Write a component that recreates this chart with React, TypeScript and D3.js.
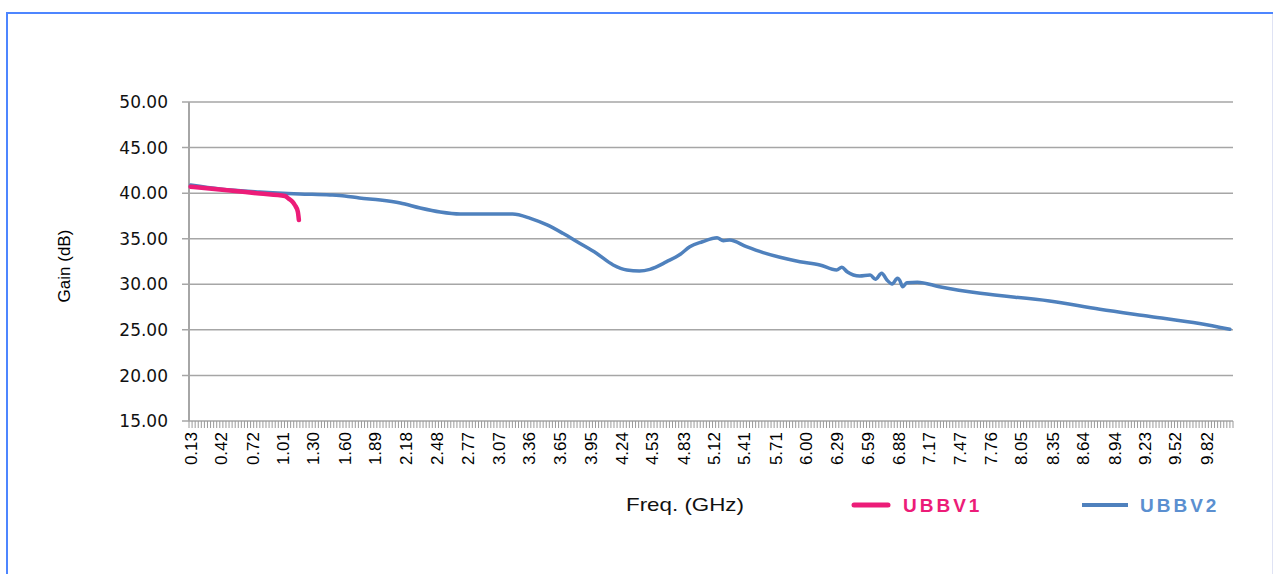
import React from "react";
import * as d3 from "d3";

// sweep: 339 points starting at 0.13 GHz
const sweepStart = 0.13;
const sweepStep = 0.029364;
const sweepPoints = 339;

const tickLabels = [
  "0.13", "0.42", "0.72", "1.01", "1.30", "1.60", "1.89", "2.18", "2.48",
  "2.77", "3.07", "3.36", "3.65", "3.95", "4.24", "4.53", "4.83", "5.12",
  "5.41", "5.71", "6.00", "6.29", "6.59", "6.88", "7.17", "7.47", "7.76",
  "8.05", "8.35", "8.64", "8.94", "9.23", "9.52", "9.82",
];

const yTicks = [15, 20, 25, 30, 35, 40, 45, 50];

const ubbv1Freq = [0.13, 0.53, 0.79, 1.03, 1.06, 1.1, 1.124, 1.153, 1.163];
const ubbv1Gain = [40.71, 40.27, 39.96, 39.69, 39.44, 39.08, 38.7, 37.96, 37.05];

const ubbv2Freq = [
  0.13, 0.41, 0.79, 1.17, 1.46, 1.6, 1.74, 1.94, 2.13, 2.32, 2.51, 2.7,
  3.2, 3.37, 3.53, 3.68, 3.84, 4.0, 4.16, 4.29, 4.41, 4.51, 4.67, 4.8,
  4.89, 5.01, 5.15, 5.21, 5.27, 5.43, 5.59, 5.75, 5.94, 6.13, 6.29, 6.34,
  6.39, 6.51, 6.61, 6.66, 6.72, 6.77, 6.82, 6.87, 6.89, 6.92, 6.96, 7.06,
  7.27, 7.66, 8.32, 8.8, 9.28, 9.75, 10.04,
];
const ubbv2Gain = [
  40.89, 40.45, 40.12, 39.91, 39.8, 39.69, 39.47, 39.25, 38.92, 38.37, 37.93, 37.71,
  37.71, 37.24, 36.51, 35.59, 34.5, 33.4, 32.12, 31.57, 31.46, 31.64, 32.48, 33.29,
  34.12, 34.67, 35.11, 34.78, 34.86, 34.12, 33.47, 32.96, 32.48, 32.12, 31.57, 31.86,
  31.38, 30.91, 31.02, 30.55, 31.21, 30.47, 30.03, 30.66, 30.47, 29.74, 30.17, 30.22,
  29.74, 29.01, 28.17, 27.26, 26.47, 25.7, 25.06,
];

const W = 1274;
const H = 574;
const plot = { left: 189, right: 1233, top: 102, bottom: 421 };

const PINK = "#ec1c78";
const BLUE = "#4f81bd";
const GRID = "#a6a6a6";
const SANS = "Liberation Sans, Arial, sans-serif";

export default function App() {
  const lastFreq = sweepStart + (sweepPoints - 1) * sweepStep;
  const x = d3
    .scaleLinear()
    .domain([sweepStart - sweepStep / 2, lastFreq + sweepStep / 2])
    .range([plot.left, plot.right]);
  const y = d3.scaleLinear().domain([15, 50]).range([plot.bottom, plot.top]);

  const line = d3
    .line<[number, number]>()
    .x((d) => x(d[0]))
    .y((d) => y(d[1]))
    .curve(d3.curveMonotoneX);

  const v1 = ubbv1Freq.map((f, i) => [f, ubbv1Gain[i]] as [number, number]);
  const v2 = ubbv2Freq.map((f, i) => [f, ubbv2Gain[i]] as [number, number]);

  // tick marks between categories
  const minorTicks = d3.range(sweepPoints + 1).map((i) => x(sweepStart - sweepStep / 2 + i * sweepStep));

  return (
    <svg width={W} height={H} style={{ position: "absolute", left: 0, top: 0, background: "#fff" }}>
      {/* frame */}
      <line x1={7} y1={13} x2={1273} y2={13} stroke="#4d86ff" strokeWidth={2} />
      <line x1={7} y1={12} x2={7} y2={H} stroke="#4d86ff" strokeWidth={2} />
      <line x1={1272.5} y1={14} x2={1272.5} y2={H} stroke="#dfe3f4" strokeWidth={1} />

      {/* grid + y axis */}
      {yTicks.map((t) => (
        <g key={t}>
          <line x1={182} x2={plot.right} y1={y(t)} y2={y(t)} stroke={GRID} strokeWidth={1.5} />
          <text
            x={168}
            y={y(t)}
            dy="0.36em"
            textAnchor="end"
            fontFamily="DejaVu Sans, Verdana, sans-serif"
            fontSize={17}
            fill="#111"
          >
            {t.toFixed(2)}
          </text>
        </g>
      ))}
      <line x1={plot.left} x2={plot.left} y1={plot.top} y2={plot.bottom} stroke={GRID} strokeWidth={2} />

      {/* x axis */}
      {minorTicks.map((tx, i) => (
        <line key={i} x1={tx} x2={tx} y1={plot.bottom} y2={plot.bottom + 7} stroke="#9a9a9a" strokeWidth={1} />
      ))}
      {tickLabels.map((lab) => {
        const tx = x(+lab);
        return (
          <text
            key={lab}
            transform={`translate(${tx},432) rotate(-90)`}
            dy="0.36em"
            textAnchor="end"
            fontFamily={SANS}
            fontSize={17}
            fill="#000"
          >
            {lab}
          </text>
        );
      })}

      {/* series */}
      <path d={line(v2) ?? ""} fill="none" stroke={BLUE} strokeWidth={3.5} strokeLinejoin="round" strokeLinecap="round" />
      <path d={line(v1) ?? ""} fill="none" stroke={PINK} strokeWidth={4.5} strokeLinejoin="round" strokeLinecap="round" />

      {/* axis titles */}
      <text transform="translate(70,266) rotate(-90)" textAnchor="middle" fontFamily={SANS} fontSize={17} fill="#000">
        Gain (dB)
      </text>
      <text x={626} y={511} fontFamily={SANS} fontSize={19} fill="#111" textLength={118} lengthAdjust="spacingAndGlyphs">
        Freq. (GHz)
      </text>

      {/* legend */}
      <line x1={854} x2={888} y1={505} y2={505} stroke={PINK} strokeWidth={5} strokeLinecap="round" />
      <text x={903} y={512} fontFamily={SANS} fontWeight="bold" fontSize={19} letterSpacing={3} fill={PINK}>
        UBBV1
      </text>
      <line x1={1082} x2={1128} y1={505} y2={505} stroke={BLUE} strokeWidth={4} />
      <text x={1140} y={512} fontFamily={SANS} fontWeight="bold" fontSize={19} letterSpacing={3} fill="#5b8fd0">
        UBBV2
      </text>
    </svg>
  );
}
